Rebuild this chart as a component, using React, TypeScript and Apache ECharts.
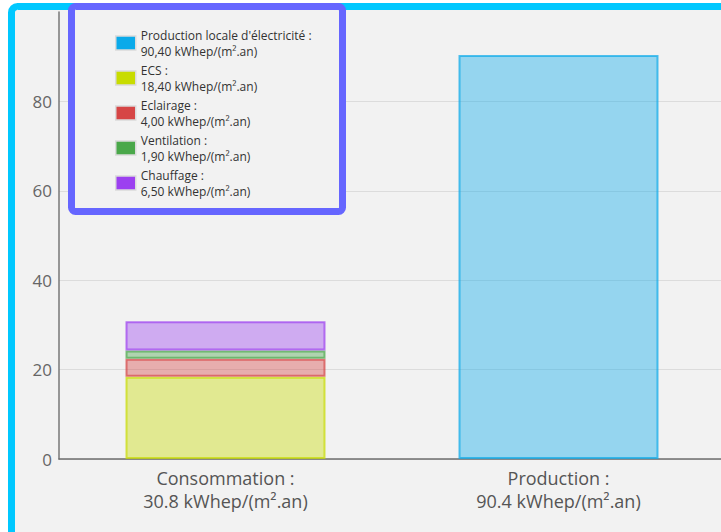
import React, { useEffect, useRef } from "react";
import * as echarts from "echarts";

const categories = ["Consommation", "Production"];
const seriesNames = [
  "Production locale d'électricité",
  "ECS",
  "Eclairage",
  "Ventilation",
  "Chauffage",
];
const productionValues = [null, 90.4];
const ecsValues = [18.4, null];
const eclairageValues = [4.0, null];
const ventilationValues = [1.9, null];
const chauffageValues = [6.5, null];
const legendValues = [90.4, 18.4, 4.0, 1.9, 6.5];
const yTicks = [0, 20, 40, 60, 80, 100];

const colors = [
  [10, 170, 234],
  [200, 220, 0],
  [214, 69, 69],
  [74, 168, 74],
  [156, 64, 240],
];
const rgba = (c: number[], a: number) => `rgba(${c[0]},${c[1]},${c[2]},${a})`;

export default function App() {
  const ref = useRef<HTMLDivElement>(null);
  useEffect(() => {
    if (!ref.current) return;
    const chart = echarts.init(ref.current, undefined, { renderer: "svg" });
    const consTotal = [ecsValues, eclairageValues, ventilationValues, chauffageValues]
      .reduce((s, arr) => s + (arr[0] || 0), 0);
    const prodTotal = productionValues[1] || 0;
    const totals = [consTotal, prodTotal];
    const dataSets = [productionValues, ecsValues, eclairageValues, ventilationValues, chauffageValues];
    const series = seriesNames.map((name, i) => ({
      name,
      type: "bar",
      stack: i === 0 ? "prod" : "cons",
      barWidth: 200,
      barGap: "-100%",
      data: dataSets[i].map((v) => (v === null ? "-" : v)),
      itemStyle: {
        color: rgba(colors[i], 0.4),
        borderColor: rgba(colors[i], 0.7),
        borderWidth: 2,
      },
      emphasis: { disabled: true },
    }));
    const fmt = (v: number) => v.toFixed(2).replace(".", ",");
    chart.setOption({
      animation: false,
      backgroundColor: "#ffffff",
      textStyle: { fontFamily: "Open Sans" },
      graphic: [
        {
          type: "rect",
          z: -1,
          shape: { x: 11.5, y: 6.5, width: 740, height: 540, r: 6 },
          style: { fill: "#f2f2f2", stroke: "#00c8ff", lineWidth: 7 },
        },
        {
          type: "rect",
          z: 3,
          shape: { x: 71.5, y: 6.5, width: 271, height: 205, r: 4 },
          style: { fill: "#f2f2f2", stroke: "#6666ff", lineWidth: 7 },
        },
      ],
      grid: { left: 59, right: 0, top: 12, bottom: 73 },
      legend: {
        orient: "vertical",
        left: 110,
        top: 22,
        itemWidth: 20,
        itemHeight: 14,
        itemGap: 3,
        icon: "rect",
        selectedMode: false,
        z: 5,
        data: seriesNames.map((n, i) => ({
          name: n,
          itemStyle: {
            color: rgba(colors[i], 1),
            borderColor: "#dadada",
            borderWidth: 1.5,
          },
        })),
        formatter: (name: string) => {
          const i = seriesNames.indexOf(name);
          return `${name} :\n${fmt(legendValues[i])} kWhep/(m².an)`;
        },
        textStyle: {
          fontFamily: "Open Sans",
          fontSize: 12,
          lineHeight: 16,
          color: "#333",
        },
      },
      xAxis: {
        type: "category",
        data: categories,
        axisTick: { show: false },
        axisLine: { lineStyle: { color: "#6e6e6e", width: 1.5 } },
        axisLabel: {
          margin: 7,
          fontSize: 18,
          lineHeight: 23,
          color: "#555",
          fontFamily: "Open Sans",
          formatter: (v: string) => {
            const i = categories.indexOf(v);
            return `${v} :\n${totals[i].toFixed(1)} kWhep/(m².an)`;
          },
        },
      },
      yAxis: {
        type: "value",
        min: yTicks[0],
        max: yTicks[yTicks.length - 1],
        interval: 20,
        axisLine: { show: true, lineStyle: { color: "#777", width: 1.5 } },
        axisTick: { show: false },
        axisLabel: {
          showMaxLabel: false,
          margin: 7,
          fontSize: 17,
          color: "#666",
          fontFamily: "Open Sans",
        },
        splitLine: {
          lineStyle: {
            color: ["#dcdcdc", "#dcdcdc", "#dcdcdc", "#dcdcdc", "#dcdcdc", "rgba(0,0,0,0)"],
            width: 1,
          },
        },
      },
      series,
    });
    return () => chart.dispose();
  }, []);
  return (
    <div style={{ position: "fixed", left: 0, top: 0, width: 721, height: 532, overflow: "hidden" }}>
      <div ref={ref} style={{ width: 725, height: 532 }} />
    </div>
  );
}
